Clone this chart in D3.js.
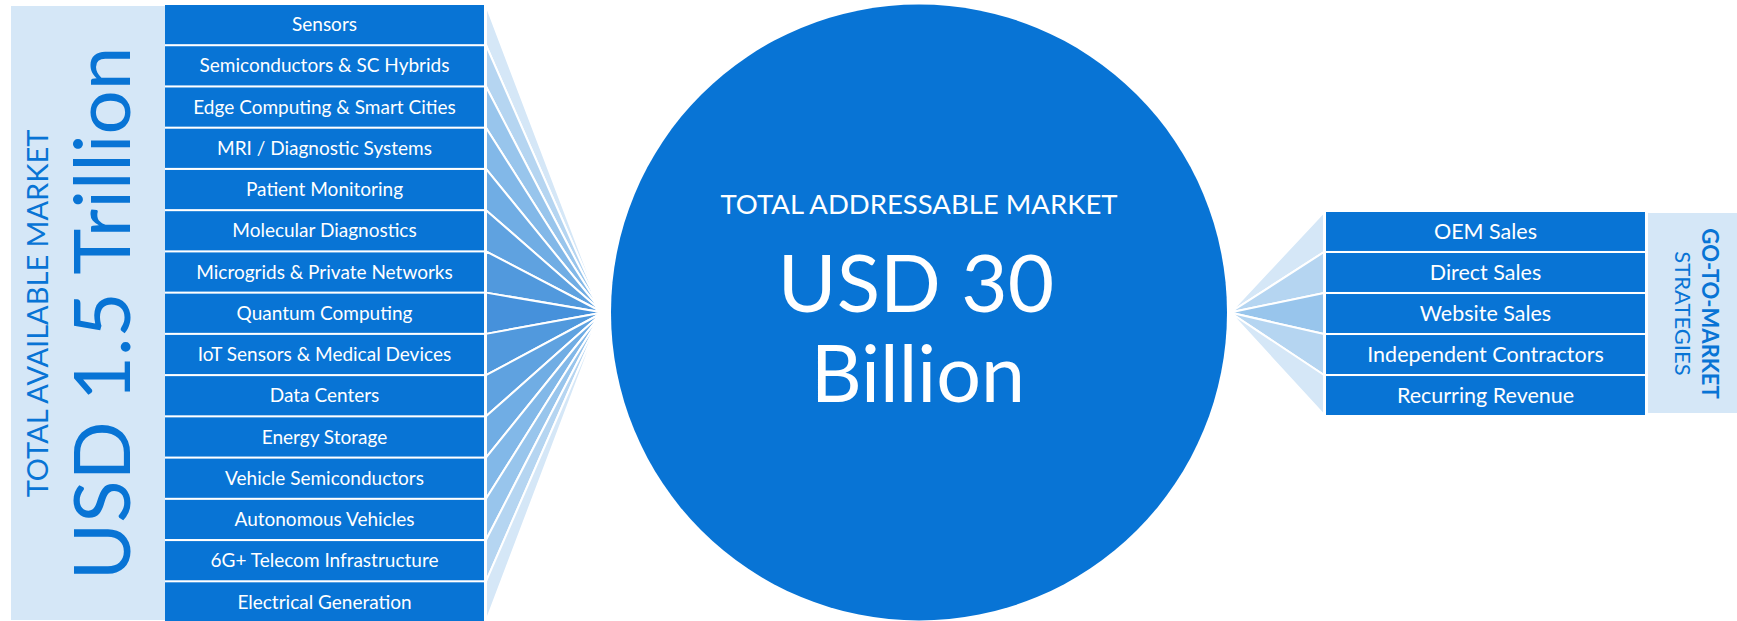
<!DOCTYPE html>
<html>
<head>
<meta charset="utf-8">
<script src="https://cdn.jsdelivr.net/npm/d3@7"></script>
<style>
  html, body { margin: 0; padding: 0; background: #ffffff; }
  svg { display: block; }
  text { font-family: Lato, "Open Sans", sans-serif; }
</style>
</head>
<body>
<svg id="chart" width="1737" height="621"></svg>
<script>
// Market segments feeding the addressable market
const segments = [
  "Sensors",
  "Semiconductors & SC Hybrids",
  "Edge Computing & Smart Cities",
  "MRI / Diagnostic Systems",
  "Patient Monitoring",
  "Molecular Diagnostics",
  "Microgrids & Private Networks",
  "Quantum Computing",
  "IoT Sensors & Medical Devices",
  "Data Centers",
  "Energy Storage",
  "Vehicle Semiconductors",
  "Autonomous Vehicles",
  "6G+ Telecom Infrastructure",
  "Electrical Generation"
];

// Sales channels
const strategies = [
  "OEM Sales",
  "Direct Sales",
  "Website Sales",
  "Independent Contractors",
  "Recurring Revenue"
];

// Headline figures
const availableMarket = ["TOTAL AVAILABLE MARKET", "USD 1.5 Trillion"];
const addressableMarket = ["TOTAL ADDRESSABLE MARKET", "USD 30", "Billion"];
const strategyTitle = ["GO-TO-MARKET", "STRATEGIES"];

const BLUE = "#0874d5";
const PALE = "#d5e7f7";
// Fan shades from the outer wedges (lightest) to the centre (darkest)
const shade = d3.scaleLinear()
  .domain([0, 1, 2, 3, 4, 5, 6, 7])
  .range(["#d5e7f7", "#b5d5f1", "#98c5ec", "#82b8e8", "#70ade4", "#5fa2e0", "#5199dd", "#4691db"]);

const svg = d3.select("#chart");

const midY = 312.5;
const circle = { cx: 919, cy: midY, r: 308 };

// ---- Left: segment list ----
const left = { x0: 165, x1: 484, apexX: 603 };
const yLeft = d3.scaleBand().domain(segments).range([5, 621.5]).paddingInner(0.05).paddingOuter(0);

svg.append("rect")
  .attr("x", 11).attr("y", 6)
  .attr("width", left.x0 - 11).attr("height", 614)
  .attr("fill", PALE);

const nL = segments.length;
const fanL = svg.append("g");
fanL.selectAll("path")
  .data(segments)
  .join("path")
  .attr("d", d => {
    const i = segments.indexOf(d);
    const t = i === 0 ? yLeft(d) : yLeft(d) - yLeft.step() * 0.025;
    const b = i === nL - 1 ? yLeft(d) + yLeft.bandwidth() : yLeft(d) + yLeft.bandwidth() + yLeft.step() * 0.025;
    return `M${left.x1 + 2},${t}L${left.apexX},${midY}L${left.x1 + 2},${b}Z`;
  })
  .attr("fill", d => {
    const i = segments.indexOf(d);
    return shade(Math.min(i, nL - 1 - i));
  })
  .attr("stroke", "#ffffff")
  .attr("stroke-width", 2)
  .attr("stroke-linejoin", "miter");

const rowsL = svg.append("g");
rowsL.selectAll("rect")
  .data(segments)
  .join("rect")
  .attr("x", left.x0)
  .attr("y", d => yLeft(d))
  .attr("width", left.x1 - left.x0)
  .attr("height", yLeft.bandwidth())
  .attr("fill", BLUE);
rowsL.selectAll("text")
  .data(segments)
  .join("text")
  .attr("x", (left.x0 + left.x1) / 2)
  .attr("y", d => yLeft(d) + yLeft.bandwidth() / 2)
  .attr("dy", "0.35em")
  .attr("text-anchor", "middle")
  .attr("fill", "#ffffff")
  .attr("font-size", 19)
  .text(d => d);

// Rotated total available market label
svg.append("text")
  .attr("transform", `translate(48,${midY + 1}) rotate(-90)`)
  .attr("text-anchor", "middle")
  .attr("fill", BLUE)
  .attr("font-size", 29)
  .text(availableMarket[0]);
svg.append("text")
  .attr("transform", `translate(130,${midY + 1}) rotate(-90)`)
  .attr("text-anchor", "middle")
  .attr("fill", BLUE)
  .attr("font-size", 78)
  .text(availableMarket[1]);

// ---- Centre: addressable market circle ----
svg.append("circle")
  .attr("cx", circle.cx).attr("cy", circle.cy).attr("r", circle.r)
  .attr("fill", BLUE);

const centre = svg.append("g").attr("fill", "#ffffff").attr("text-anchor", "middle");
centre.append("text")
  .attr("x", circle.cx).attr("y", 214)
  .attr("font-size", 27.5)
  .text(addressableMarket[0]);
centre.append("text")
  .attr("x", circle.cx - 3).attr("y", 312)
  .attr("font-size", 80)
  .text(addressableMarket[1]);
centre.append("text")
  .attr("x", circle.cx - 1).attr("y", 402)
  .attr("font-size", 79)
  .text(addressableMarket[2]);

// ---- Right: go-to-market strategies ----
const right = { apexX: 1230, x0: 1326, x1: 1645 };
const yRight = d3.scaleBand().domain(strategies).range([212, 415]).paddingInner(0.05).paddingOuter(0);
const nR = strategies.length;

const fanR = svg.append("g");
fanR.selectAll("path")
  .data(strategies)
  .join("path")
  .attr("d", d => {
    const i = strategies.indexOf(d);
    const t = i === 0 ? yRight(d) : yRight(d) - yRight.step() * 0.025;
    const b = i === nR - 1 ? yRight(d) + yRight.bandwidth() : yRight(d) + yRight.bandwidth() + yRight.step() * 0.025;
    return `M${right.x0 - 2},${t}L${right.apexX},${midY}L${right.x0 - 2},${b}Z`;
  })
  .attr("fill", d => {
    const i = strategies.indexOf(d);
    return shade(Math.min(i, nR - 1 - i));
  })
  .attr("stroke", "#ffffff")
  .attr("stroke-width", 2);

const rowsR = svg.append("g");
rowsR.selectAll("rect")
  .data(strategies)
  .join("rect")
  .attr("x", right.x0)
  .attr("y", d => yRight(d))
  .attr("width", right.x1 - right.x0)
  .attr("height", yRight.bandwidth())
  .attr("fill", BLUE);
rowsR.selectAll("text")
  .data(strategies)
  .join("text")
  .attr("x", (right.x0 + right.x1) / 2)
  .attr("y", d => yRight(d) + yRight.bandwidth() / 2)
  .attr("dy", "0.35em")
  .attr("text-anchor", "middle")
  .attr("fill", "#ffffff")
  .attr("font-size", 21.5)
  .text(d => d);

svg.append("rect")
  .attr("x", 1648).attr("y", 213)
  .attr("width", 1737 - 1648).attr("height", 200)
  .attr("fill", PALE);

svg.append("text")
  .attr("transform", `translate(1702,${midY + 1}) rotate(90)`)
  .attr("text-anchor", "middle")
  .attr("fill", BLUE)
  .attr("font-size", 22)
  .attr("font-weight", 700)
  .text(strategyTitle[0]);
svg.append("text")
  .attr("transform", `translate(1675,${midY + 1}) rotate(90)`)
  .attr("text-anchor", "middle")
  .attr("fill", BLUE)
  .attr("font-size", 22)
  .text(strategyTitle[1]);
</script>
</body>
</html>
